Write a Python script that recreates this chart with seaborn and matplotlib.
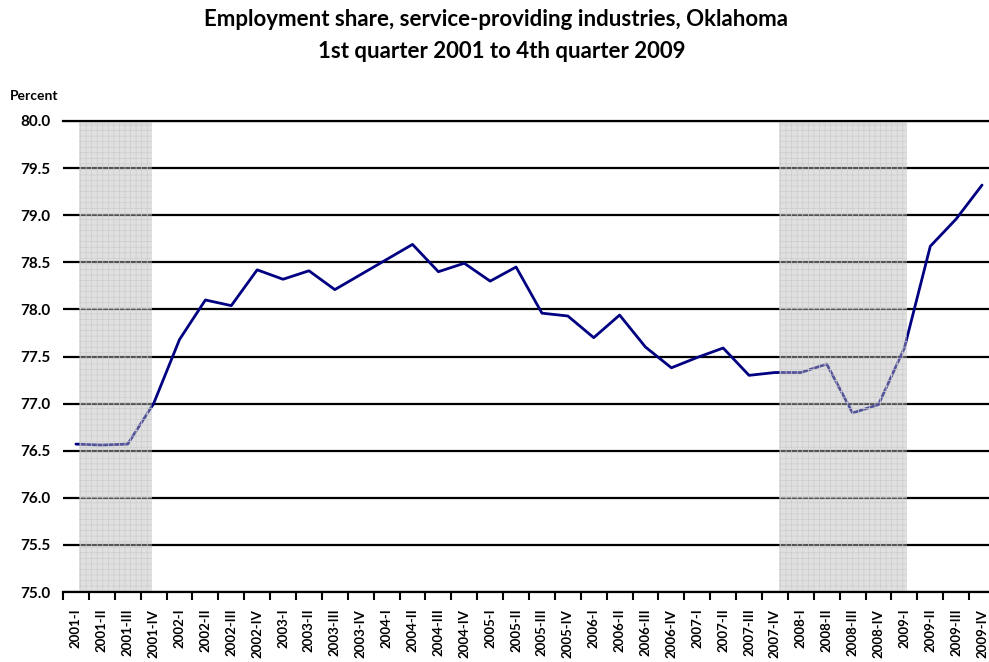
import numpy as np
import pandas as pd
import matplotlib
matplotlib.use("Agg")
import matplotlib.pyplot as plt
import seaborn as sns

# Quarterly labels, 2001-I through 2009-IV
years = list(range(2001, 2010))
quarters = ["I", "II", "III", "IV"]
labels = [f"{y}-{q}" for y in years for q in quarters]

# Service-providing industries' share of total employment, Oklahoma (percent)
share = [
    76.57, 76.56, 76.57, 77.00,
    77.68, 78.10, 78.04, 78.42,
    78.32, 78.41, 78.21, 78.37,
    78.53, 78.69, 78.40, 78.49,
    78.30, 78.45, 77.96, 77.93,
    77.70, 77.94, 77.60, 77.38,
    77.49, 77.59, 77.30, 77.33,
    77.33, 77.42, 76.90, 76.99,
    77.59, 78.67, 78.96, 79.32,
]

# Recession periods, in category-axis units
recessions = [(0.12, 2.94), (27.15, 32.12)]

y_ticks = [75.0, 75.5, 76.0, 76.5, 77.0, 77.5, 78.0, 78.5, 79.0, 79.5, 80.0]

df = pd.DataFrame({"pos": np.arange(len(labels)), "quarter": labels, "share": share})

sns.set_theme(style="white")
plt.rcParams["font.family"] = ["Lato", "DejaVu Sans"]
plt.rcParams["text.color"] = "black"
plt.rcParams["xtick.color"] = "black"
plt.rcParams["ytick.color"] = "black"
plt.rcParams["hatch.linewidth"] = 0.5

W, H = 989, 662
fig = plt.figure(figsize=(W / 100, H / 100), dpi=100)
ax = fig.add_axes([63 / W, 1 - 592 / H, (995 - 63) / W, (592 - 121) / H])

sns.lineplot(data=df, x="pos", y="share", ax=ax, color="#000080",
             linewidth=2.0, zorder=2, legend=False)

# Shaded recession bands with a fine grid pattern, laid over the line
for x0, x1 in recessions:
    ax.axvspan(x0, x1, facecolor="#bcbcbc", alpha=0.45, linewidth=0, zorder=3)
    ax.axvspan(x0, x1, facecolor="none", edgecolor="#cdcdcd", hatch="+++",
               linewidth=0, zorder=3.1)

ax.set_xlim(-0.5, len(labels) - 0.5)
ax.set_ylim(75.0, 80.0)
ax.set_yticks(y_ticks)
ax.set_yticklabels([f"{v:.1f}" for v in y_ticks], fontsize=11, fontweight="bold")
ax.tick_params(axis="y", length=0, pad=9, colors="black")

# Tick marks between categories, labels centred on each category
ax.set_xticks(np.arange(len(labels) + 1) - 0.5)
ax.set_xticklabels([])
ax.set_xticks(np.arange(len(labels)), minor=True)
ax.set_xticklabels(labels, minor=True, rotation=90, fontsize=9.5,
                   fontweight="bold", color="black")
ax.tick_params(axis="x", which="major", length=6, width=1.5, color="black",
               direction="out", bottom=True)
ax.tick_params(axis="x", which="minor", length=0, pad=12, bottom=True)

ax.set_xlabel("")
ax.set_ylabel("")
ax.yaxis.grid(True, color="black", linewidth=1.6)
ax.set_axisbelow(True)

for side in ["left", "right"]:
    ax.spines[side].set_visible(False)
for side in ["top", "bottom"]:
    ax.spines[side].set_visible(True)
    ax.spines[side].set_color("black")
    ax.spines[side].set_linewidth(1.6)
    ax.spines[side].set_zorder(5)

fig.text(10 / W, 1 - 96 / H, "Percent", fontsize=10, fontweight="bold",
         ha="left", va="center")
fig.text(0.502, 1 - 20 / H, "Employment share, service-providing industries, Oklahoma",
         fontsize=16, fontweight="bold", ha="center", va="center")
fig.text(0.507, 1 - 52 / H, "1st quarter 2001 to 4th quarter 2009",
         fontsize=16, fontweight="bold", ha="center", va="center")

fig.savefig("out.png", dpi=100)
